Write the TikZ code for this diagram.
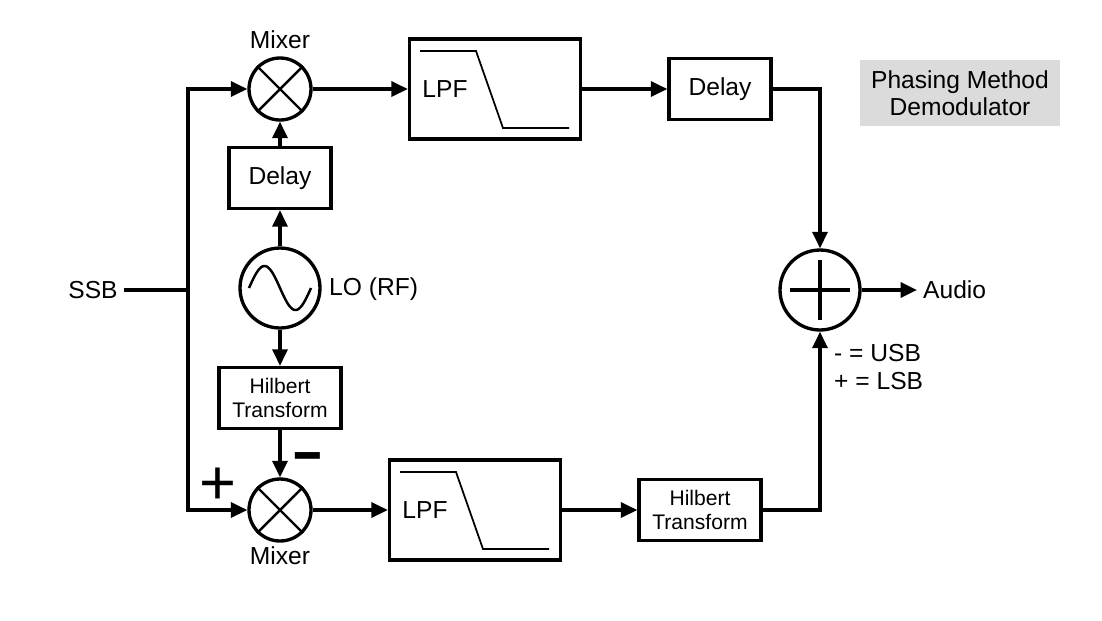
\documentclass[tikz,border=0pt]{standalone}
\usepackage{fontspec}
\setmainfont{Liberation Sans}
\usetikzlibrary{arrows.meta}

\tikzset{
  wire/.style={line width=1.9pt},
  arr/.style={wire,-{Triangle[length=0.33cm,width=0.3cm]}},
  txt/.style={font=\fontsize{14}{16}\selectfont},
  blk/.style={draw,line width=1.9pt,minimum width=2.04cm,minimum height=1.22cm,inner sep=0pt,txt},
  hil/.style={blk,minimum width=2.44cm,align=center,font=\fontsize{12}{14}\selectfont},
  lpf/.style={draw,line width=1.9pt,minimum width=3.42cm,minimum height=2cm},
  filt/.style={line width=1pt},
  mix/.style={draw,circle,line width=1.9pt,minimum size=1.24cm,inner sep=0pt},
  big/.style={draw,circle,line width=1.9pt,minimum size=1.6cm,inner sep=0pt}
}

\begin{document}
\begin{tikzpicture}[x=0.02cm,y=-0.02cm]
\useasboundingbox (0,0) rectangle (1102,620);

\node[txt] (ssb) at (93,290) {SSB};
\coordinate (split) at (188,290);

\node[mix] (mixA) at (280,89) {};
\node[mix] (mixB) at (280,510) {};
\node[txt] (mixAlbl) at (280,40) {Mixer};
\node[txt] (mixBlbl) at (280,556) {Mixer};

\node[blk] (dlyA) at (280,178) {Delay};
\node[big] (lo) at (280,288) {};
\node[txt,anchor=west] (lolbl) at (323,289) {LO (RF)};
\node[hil] (hilA) at (280,398) {Hilbert\\Transform};

\node[lpf] (lpfA) at (495,89) {};
\node[lpf] (lpfB) at (475,510) {};

\node[blk] (dlyB) at (720,89) {Delay};
\node[hil] (hilB) at (700,510) {Hilbert\\Transform};

\node[big] (sum) at (820,290) {};
\node[txt,anchor=west] (audio) at (917,290) {Audio};
\node[txt,anchor=west,align=left] (sgn) at (828,367) {- = USB\\+ = LSB};

\node[font=\fontsize{36}{36}\selectfont] (plus) at (218,486) {+};
\node[font=\fontsize{32}{32}\selectfont\bfseries] (minus) at (308,462) {\scalebox{1.75}[1]{-}};

\node[fill=black!14,minimum width=4cm,minimum height=1.32cm,align=center,font=\fontsize{14}{15.5}\selectfont] (title) at (960,93) {Phasing Method\\Demodulator};

\foreach \m in {mixA,mixB} {
  \draw[line width=1.4pt] (\m.45) -- (\m.225);
  \draw[line width=1.4pt] (\m.135) -- (\m.315);
}
\draw[wire] ([xshift=-0.6cm]sum.center) -- ([xshift=0.6cm]sum.center);
\draw[wire] ([yshift=-0.6cm]sum.center) -- ([yshift=0.6cm]sum.center);
\draw[line width=1.4pt] plot[domain=0:360,samples=60,shift={(lo.center)}] ({\x/360*62-31},{-22*sin(\x)});

\foreach \f in {lpfA,lpfB} {
  \node[txt] at ([xshift=-1cm]\f.center) {LPF};
  \draw[filt] ([shift={(-75,-38)}]\f.center) -- ++(56,0) -- ++(27,77) -- ++(66,0);
}

\draw[wire] (ssb) -- (split);
\draw[arr] (split) |- (mixA);
\draw[arr] (split) |- (mixB);
\draw[arr] (lo) -- (dlyA);
\draw[arr] (dlyA) -- (mixA);
\draw[arr] (lo) -- (hilA);
\draw[arr] (hilA) -- (mixB);
\draw[arr] (mixA) -- (lpfA);
\draw[arr] (mixB) -- (lpfB);
\draw[arr] (lpfA) -- (dlyB);
\draw[arr] (lpfB) -- (hilB);
\draw[arr] (dlyB) -| (sum);
\draw[arr] (hilB) -| (sum);
\draw[arr] (sum) -- (audio);

\end{tikzpicture}
\end{document}
